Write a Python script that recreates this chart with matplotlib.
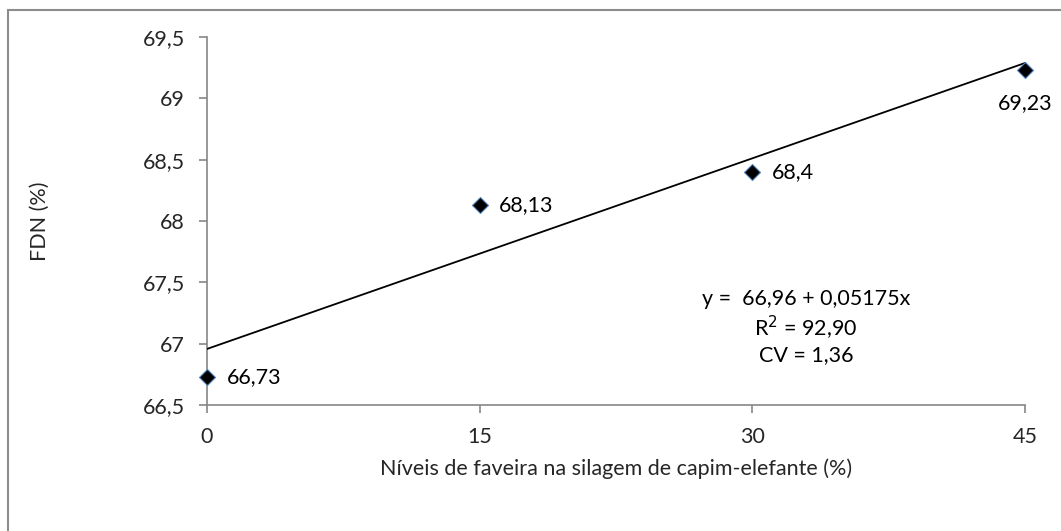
import numpy as np
import matplotlib
matplotlib.use('Agg')
from matplotlib import pyplot as plt
from matplotlib.patches import Rectangle
from matplotlib.ticker import FuncFormatter

niveis = [0, 15, 30, 45]
fdn = [66.73, 68.13, 68.4, 69.23]
rotulos = ['66,73', '68,13', '68,4', '69,23']
yticks = [66.5, 67, 67.5, 68, 68.5, 69, 69.5]

plt.rcParams['font.family'] = ['Lato', 'DejaVu Sans']
plt.rcParams['font.size'] = 15.5

fig = plt.figure(figsize=(10.61, 5.31), dpi=100)
ax = fig.add_axes([207/1061, 1 - 405/531, 818/1061, 368/531])

# moldura externa do grafico
fig.patches.append(Rectangle((8/1061, -0.1), 1.2, 1.1 - 10/531,
                             transform=fig.transFigure, fill=False,
                             edgecolor='#8c8c8c', lw=1.5))

# linha de tendencia (ajuste linear)
b1, b0 = np.polyfit(niveis, fdn, 1)
xs = np.array([niveis[0], niveis[-1]])
ax.plot(xs, b0 + b1*xs, color='black', lw=1.3, zorder=2)

ax.plot(niveis, fdn, 'D', color='black', markeredgecolor='#4f81bd',
        markeredgewidth=0.8, markersize=8.5, zorder=3, clip_on=False)

for x, y, t in zip(niveis, fdn, rotulos):
    if x == niveis[-1]:
        ax.annotate(t, (x, y), xytext=(0, -24), textcoords='offset points',
                    ha='center', va='center')
    else:
        ax.annotate(t, (x, y), xytext=(14, 0), textcoords='offset points',
                    ha='left', va='center')

ax.text(0.732, 0.212, 'y =  66,96 + 0,05175x\nR$^{2}$ = 92,90\nCV = 1,36',
        transform=ax.transAxes, ha='center', va='center', linespacing=1.2)

ax.set_xlim(0, 45)
ax.set_ylim(66.5, 69.5)
ax.set_xticks(niveis)
ax.set_yticks(yticks)
ax.yaxis.set_major_formatter(FuncFormatter(lambda v, p: ('%g' % v).replace('.', ',')))

for s in ['top', 'right']:
    ax.spines[s].set_visible(False)
for s in ['left', 'bottom']:
    ax.spines[s].set_color('#868686')
    ax.spines[s].set_linewidth(1.2)
    ax.spines[s].set_zorder(1)
ax.tick_params(axis='both', color='#868686', width=1.2, length=6, labelcolor='#262626')
ax.tick_params(axis='y', pad=10)
ax.tick_params(axis='x', pad=10)

ax.set_xlabel('Níveis de faveira na silagem de capim-elefante (%)', labelpad=8, color='#262626')
ax.set_ylabel('FDN (%)', labelpad=67, color='#262626')

plt.savefig('out.png', dpi=100)
